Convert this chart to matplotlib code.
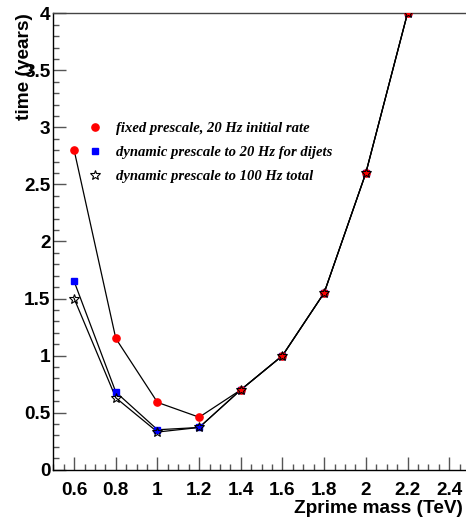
#!/usr/bin/env python3
"""
Time needed vs Zprime mass for three prescale strategies (ROOT-style plot).
"""

import matplotlib
matplotlib.use("Agg")
import matplotlib.pyplot as plt
from matplotlib.ticker import MultipleLocator, FixedLocator

mass = [0.6, 0.8, 1.0, 1.2, 1.4, 1.6, 1.8, 2.0, 2.2]
fixed_20hz = [2.80, 1.15, 0.59, 0.46, 0.70, 1.00, 1.55, 2.60, 4.00]
dyn_20hz_dijets = [1.65, 0.68, 0.35, 0.37, 0.70, 1.00, 1.55, 2.60, 4.00]
dyn_100hz_total = [1.50, 0.63, 0.33, 0.37, 0.70, 1.00, 1.55, 2.60, 4.00]

labels = [
    "fixed prescale, 20 Hz initial rate",
    "dynamic prescale to 20 Hz for dijets",
    "dynamic prescale to 100 Hz total",
]
xticks = [0.6, 0.8, 1.0, 1.2, 1.4, 1.6, 1.8, 2.0, 2.2, 2.4]
xtick_labels = ["0.6", "0.8", "1", "1.2", "1.4", "1.6", "1.8", "2", "2.2", "2.4"]
yticks = [0, 0.5, 1, 1.5, 2, 2.5, 3, 3.5, 4]
ytick_labels = ["0", "0.5", "1", "1.5", "2", "2.5", "3", "3.5", "4"]

SANS = "Liberation Sans"
SERIF = "Liberation Serif"

fig = plt.figure(figsize=(4.66, 5.19), dpi=100)
ax = fig.add_axes([0.1144, 0.095, 0.8942, 0.8794])

# line + markers; blue first, then red, star on top (as in the overlap)
ax.plot(mass, dyn_20hz_dijets, color="black", lw=0.9, zorder=2)
ax.plot(mass, fixed_20hz, color="black", lw=0.9, zorder=2)
ax.plot(mass, dyn_100hz_total, color="black", lw=0.9, zorder=2)
h_blue, = ax.plot(mass, dyn_20hz_dijets, ls="none", marker="s", ms=4.6,
                  color="#0000ff", mec="#0000ff", zorder=3)
h_red, = ax.plot(mass, fixed_20hz, ls="none", marker="o", ms=5.2,
                 color="#ff0000", mec="#ff0000", zorder=4)
h_star, = ax.plot(mass, dyn_100hz_total, ls="none", marker="*", ms=7,
                  mfc="none", mec="black", mew=0.8, zorder=5)

ax.set_xlim(0.5, 2.5)
ax.set_ylim(0, 4)

ax.xaxis.set_major_locator(FixedLocator(xticks))
ax.xaxis.set_minor_locator(MultipleLocator(0.05))
ax.yaxis.set_major_locator(FixedLocator(yticks))
ax.yaxis.set_minor_locator(MultipleLocator(0.1))
ax.set_xticklabels(xtick_labels)
ax.set_yticklabels(ytick_labels)

for lab in ax.get_xticklabels() + ax.get_yticklabels():
    lab.set_fontfamily(SANS)
    lab.set_fontweight("bold")
    lab.set_fontsize(13.7)

ax.tick_params(which="both", direction="in", color="#555555", width=1.0,
               top=False, right=False)
ax.tick_params(axis="x", which="major", length=9.2, pad=9)
ax.tick_params(axis="x", which="minor", length=4.6)
ax.tick_params(axis="y", which="major", length=9.2, pad=2)
ax.tick_params(axis="y", which="minor", length=4.6)

for side in ("left", "bottom"):
    ax.spines[side].set_color("black")
    ax.spines[side].set_linewidth(1.0)
ax.spines["top"].set_color("#444444")
ax.spines["top"].set_linewidth(1.0)
ax.spines["right"].set_visible(False)

ax.set_xlabel("Zprime mass (TeV)", fontfamily=SANS, fontweight="bold",
              fontsize=13.7, ha="right", va="center")
ax.xaxis.set_label_coords(0.983, -0.084)
ax.set_ylabel("time (years)", fontfamily=SANS, fontweight="bold",
              fontsize=13.7, ha="right", va="center")
ax.yaxis.set_label_coords(-0.07, 1.0)

leg = ax.legend([h_red, h_blue, h_star], labels, loc="upper left",
                bbox_to_anchor=(0.083, 0.763), frameon=False,
                handlelength=1.0, handletextpad=0.9, labelspacing=0.75,
                borderaxespad=0.0, borderpad=0.0,
                prop={"family": SERIF, "weight": "bold", "style": "italic",
                      "size": 10.5})

fig.savefig("out.png", dpi=100)
